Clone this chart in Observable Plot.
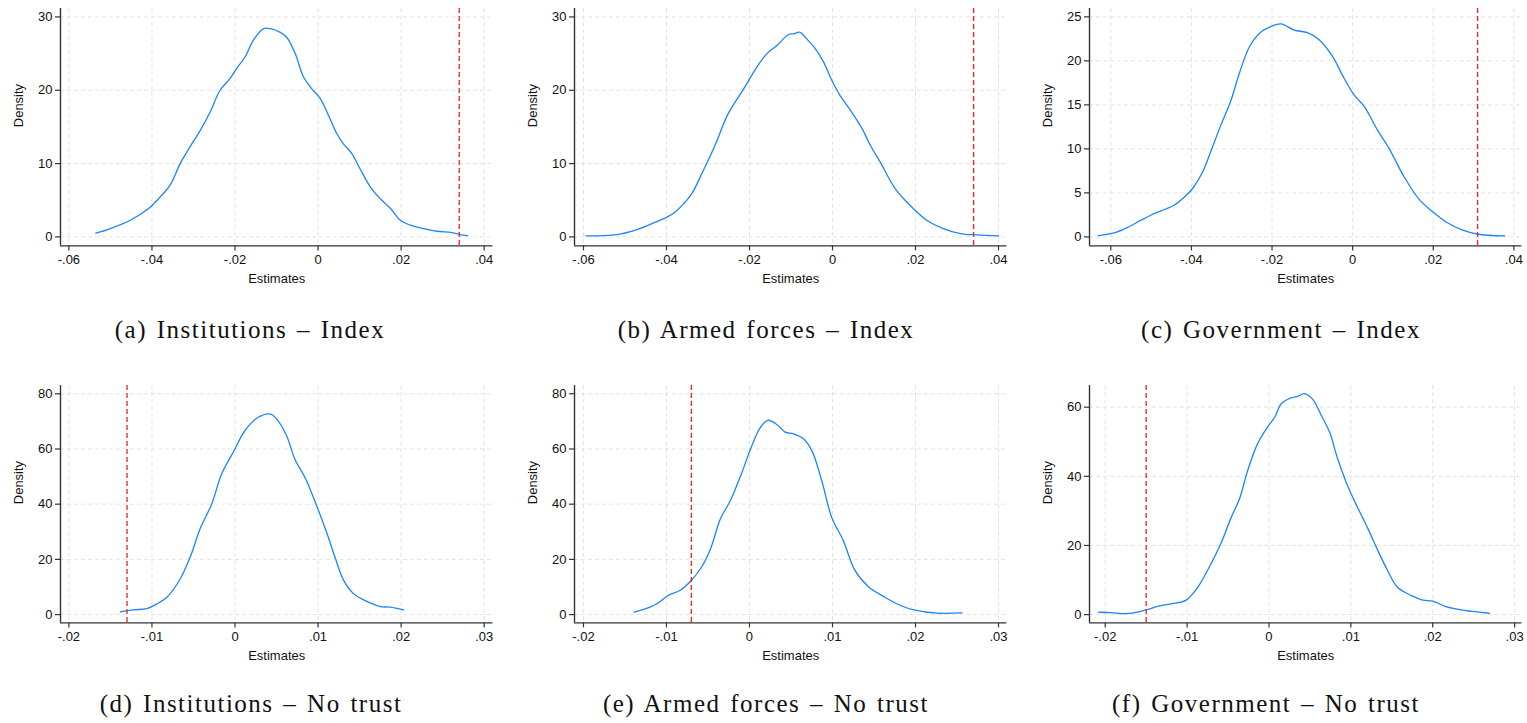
<!DOCTYPE html>
<html><head><meta charset="utf-8">
<script src="https://cdn.jsdelivr.net/npm/d3@7"></script>
<script src="https://cdn.jsdelivr.net/npm/@observablehq/plot@0.6"></script>
<style>
body{margin:0;background:#fff;}
#wrap{position:relative;width:1527px;height:723px;overflow:hidden;}
.panel{position:absolute;}
.cap{position:absolute;font-family:"Liberation Serif","Times New Roman",serif;font-size:25px;line-height:25px;letter-spacing:1.5px;word-spacing:2px;white-space:nowrap;transform:translateX(-50%);color:#111;}
</style></head><body><div id="wrap"></div>
<script>
// ---- data ----
const instIndexX = [-0.0535,-0.0500,-0.0452,-0.0408,-0.0380,-0.0356,-0.0332,-0.0308,-0.0284,-0.0260,-0.0236,-0.0212,-0.0196,-0.0176,-0.0155,-0.0131,-0.0115,-0.0091,-0.0075,-0.0055,-0.0035,-0.0015,0.0005,0.0025,0.0045,0.0061,0.0081,0.0101,0.0126,0.0150,0.0174,0.0198,0.0222,0.0254,0.0286,0.0322,0.0342,0.0360];
const instIndexY = [0.5,1.14,2.27,3.86,5.45,7.1,10,12.3,14.5,17.0,20,21.6,23,24.5,26.9,28.4,28.4,27.9,27.2,25,21.8,20.2,18.9,16.6,14.1,12.7,11.4,9.3,6.8,5.2,3.9,2.27,1.6,1.14,0.77,0.59,0.32,0.18];

const armedIndexX = [-0.0594,-0.0520,-0.0471,-0.0431,-0.0399,-0.0379,-0.0359,-0.0339,-0.0311,-0.0283,-0.0255,-0.0239,-0.0214,-0.0182,-0.0158,-0.0134,-0.0106,-0.0094,-0.0078,-0.0062,-0.0042,-0.0022,-0.0002,0.0018,0.0043,0.0071,0.0091,0.0115,0.0151,0.0187,0.0227,0.0267,0.0308,0.0348,0.0400];
const armedIndexY = [0.14,0.32,1.0,1.9,2.7,3.4,4.5,5.9,9.1,12.5,16.4,18,20.2,23.2,25,26.1,27.6,27.7,27.9,27.0,25.7,23.9,21.4,19.3,17.3,14.8,12.5,10.2,6.6,4.3,2.27,1.14,0.45,0.27,0.14];

const govIndexX = [-0.0631,-0.0592,-0.0559,-0.0525,-0.0501,-0.0476,-0.0443,-0.0418,-0.0397,-0.0372,-0.0352,-0.0327,-0.0302,-0.0281,-0.0256,-0.0227,-0.0203,-0.0178,-0.0145,-0.0112,-0.0083,-0.0050,-0.0021,0.0004,0.0029,0.0062,0.0091,0.0128,0.0166,0.0195,0.0232,0.0273,0.0311,0.0377];
const govIndexY = [0.15,0.45,1.06,1.9,2.46,2.95,3.6,4.5,5.5,7.4,9.7,12.7,15.5,18.6,21.6,23.3,23.9,24.2,23.5,23.2,22.4,20.5,18.0,16.1,14.8,12.1,10.0,6.8,4.2,3.0,1.7,0.76,0.3,0.11];

const instNoTrustX = [-0.0138,-0.0122,-0.0106,-0.0094,-0.0082,-0.0066,-0.0054,-0.0042,-0.0028,-0.0016,-0.0002,0.0012,0.0028,0.0042,0.0050,0.0062,0.0072,0.0085,0.0099,0.0111,0.0121,0.0131,0.0143,0.0155,0.0175,0.0187,0.0203];
const instNoTrustY = [0.97,1.7,2.2,3.9,6.3,12.9,20.8,31.1,40.1,51,58.9,66.7,71.5,72.7,70.9,64.9,56.4,49.2,38.9,29.2,20.2,12.3,7.5,5.3,2.9,2.7,1.7];

const armedNoTrustX = [-0.0139,-0.0120,-0.0110,-0.0098,-0.0084,-0.0071,-0.0059,-0.0047,-0.0035,-0.0023,-0.0009,0.0003,0.0013,0.0022,0.0033,0.0043,0.0053,0.0065,0.0075,0.0087,0.0099,0.0113,0.0127,0.0143,0.0163,0.0182,0.0198,0.0226,0.0256];
const armedNoTrustY = [0.85,2.7,4.2,6.9,8.7,12.1,16.6,23.8,34.7,41.3,51.6,61.3,67.7,70.4,68.9,66.1,65.5,63.7,59.5,48.6,35.3,26.8,16,10.2,6.3,3.3,1.7,0.5,0.6];

const govNoTrustX = [-0.0208,-0.0193,-0.0177,-0.0165,-0.0150,-0.0136,-0.0120,-0.0101,-0.0087,-0.0073,-0.0059,-0.0046,-0.0036,-0.0026,-0.0014,-0.0002,0.0007,0.0015,0.0027,0.0035,0.0043,0.0053,0.0064,0.0074,0.0084,0.0096,0.0108,0.0121,0.0133,0.0145,0.0157,0.0174,0.0188,0.0200,0.0216,0.0239,0.0269];
const govNoTrustY = [0.68,0.58,0.29,0.48,1.35,2.4,3.1,4.2,7.9,13.7,20.4,28.2,33.5,41.7,49.4,54.2,57.1,61,62.7,63.1,63.9,62.4,57.6,52.8,45,37.3,31.1,24.8,18.5,12.7,7.9,5.5,4.2,3.9,2.3,1.2,0.39];

// observed estimates (red dashed lines)
const observed = [0.034, 0.034, 0.031, -0.013, -0.007, -0.015];

// tick values and labels
const xTicksIndex = [-0.06,-0.04,-0.02,0,0.02,0.04];
const xLabelsIndex = ["-.06","-.04","-.02","0",".02",".04"];
const xTicksNoTrust = [-0.02,-0.01,0,0.01,0.02,0.03];
const xLabelsNoTrust = ["-.02","-.01","0",".01",".02",".03"];
const yTicks30 = [0,10,20,30];
const yTicks25 = [0,5,10,15,20,25];
const yTicks80 = [0,20,40,60,80];
const yTicks60 = [0,20,40,60];

const captions = ["(a) Institutions – Index","(b) Armed forces – Index","(c) Government – Index",
                  "(d) Institutions – No trust","(e) Armed forces – No trust","(f) Government – No trust"];
const xLabel = "Estimates";
const yLabel = "Density";

// ---- panels ----
const panels = [
  {xs: instIndexX, ys: instIndexY, xT: xTicksIndex, xL: xLabelsIndex, yT: yTicks30, xd: [-0.06202,0.0421], yd: [-1.227,31.15]},
  {xs: armedIndexX, ys: armedIndexY, xT: xTicksIndex, xL: xLabelsIndex, yT: yTicks30, xd: [-0.06217,0.04202], yd: [-1.227,31.15]},
  {xs: govIndexX, ys: govIndexY, xT: xTicksIndex, xL: xLabelsIndex, yT: yTicks25, xd: [-0.06529,0.04199], yd: [-1.023,25.95]},
  {xs: instNoTrustX, ys: instNoTrustY, xT: xTicksNoTrust, xL: xLabelsNoTrust, yT: yTicks80, xd: [-0.02101,0.03105], yd: [-3.01,83.0]},
  {xs: armedNoTrustX, ys: armedNoTrustY, xT: xTicksNoTrust, xL: xLabelsNoTrust, yT: yTicks80, xd: [-0.02108,0.03101], yd: [-3.01,83.0]},
  {xs: govNoTrustX, ys: govNoTrustY, xT: xTicksNoTrust, xL: xLabelsNoTrust, yT: yTicks60, xd: [-0.02192,0.03089], yd: [-2.40,66.28]}
];

// layout
const frameLefts = [60.3, 574.3, 1089];
const frameTops = [8.3, 385];
const capCenters = [250, 766, 1281, 251, 766, 1266];
const capTops = [317, 691];
const ML = 60, MR = 6, MT = 8, MB = 56, FW = 432.4, FH = 237.4;

const wrap = document.getElementById("wrap");
const axisColor = "#333";
const gridStyle = {stroke: "#e3e3e3", strokeOpacity: 1, strokeWidth: 1, strokeDasharray: "4,3"};

panels.forEach((p, k) => {
  const col = k % 3, row = Math.floor(k / 3);
  const data = p.xs.map((x, i) => ({x, y: p.ys[i]}));
  const chart = Plot.plot({
    width: ML + FW + MR,
    height: MT + FH + MB,
    marginLeft: ML, marginRight: MR, marginTop: MT, marginBottom: MB,
    style: {fontFamily: "'Liberation Sans', Arial, sans-serif", fontSize: "13px", background: "transparent", color: "#111"},
    x: {domain: p.xd},
    y: {domain: p.yd},
    marks: [
      Plot.gridX(p.xT, gridStyle),
      Plot.gridY(p.yT, gridStyle),
      Plot.line(data, {x: "x", y: "y", stroke: "#1a85ff", strokeWidth: 1.3, curve: "catmull-rom"}),
      Plot.ruleX([observed[k]], {stroke: "#ff1a1a", strokeWidth: 1.3, strokeDasharray: "5,3"}),
      Plot.axisX(p.xT, {tickSize: 5, tickPadding: 4, stroke: axisColor, strokeWidth: 1.2, tickFormat: d => p.xL[p.xT.indexOf(d)], label: null, fontSize: 13}),
      Plot.axisY(p.yT, {tickSize: 5, tickPadding: 3, stroke: axisColor, strokeWidth: 1.2, tickFormat: d => String(d), label: null, fontSize: 13}),
      Plot.ruleY([p.yd[0]], {stroke: axisColor, strokeWidth: 1.4}),
      Plot.ruleX([p.xd[0]], {stroke: axisColor, strokeWidth: 1.4}),
      Plot.text([xLabel], {text: d => d, frameAnchor: "bottom", dy: 37, fontSize: 13, fill: "#111"}),
      Plot.text([yLabel], {text: d => d, frameAnchor: "left", dx: -42, rotate: -90, fontSize: 13, fill: "#111"})
    ]
  });
  chart.classList.add("panel");
  chart.style.left = (frameLefts[col] - ML) + "px";
  chart.style.top = (frameTops[row] - MT) + "px";
  wrap.appendChild(chart);

  const cap = document.createElement("div");
  cap.className = "cap";
  cap.textContent = captions[k];
  cap.style.left = capCenters[k] + "px";
  cap.style.top = capTops[row] + "px";
  wrap.appendChild(cap);
});
</script>
</body></html>
